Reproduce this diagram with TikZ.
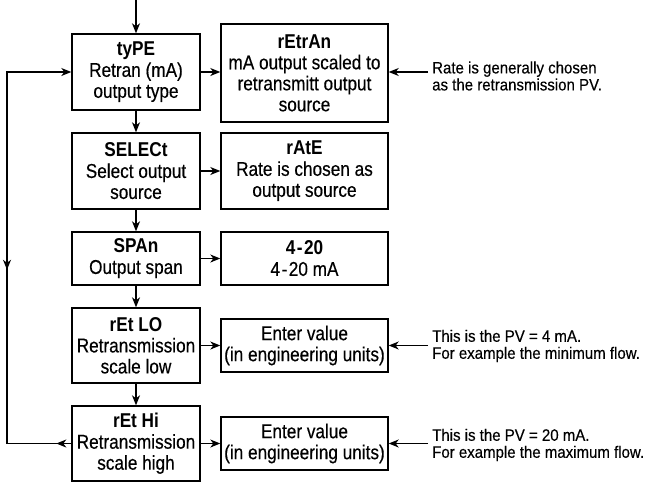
\documentclass[tikz,border=0pt]{standalone}
\usepackage{fontspec}
\setmainfont{Liberation Sans}[FakeStretch=0.86,UprightFeatures={FakeBold=0.4}]
\newfontfamily\notefont{Liberation Sans}[FakeStretch=0.91,FakeBold=0.3]
\usetikzlibrary{arrows.meta,decorations.markings}
\tikzset{
  tip/.tip={Stealth[length=10pt,width=8pt,inset=3pt]},
  box/.style={draw,line width=1.4pt,inner sep=0pt,align=center,
    font=\fontsize{20}{21}\selectfont},
  lbox/.style={box,minimum width=128pt},
  rbox/.style={box,minimum width=167pt},
  conn/.style={line width=1.2pt,-tip},
  note/.style={anchor=west,align=left,inner sep=0pt,
    font=\notefont\fontsize{16.5}{17}\selectfont}
}
\begin{document}
\begin{tikzpicture}[x=1pt,y=-1pt]
\useasboundingbox (0,0) rectangle (647,482);
% left column
\node[lbox,minimum height=76pt] (type) at (136,72) {\textbf{tyPE}\\Retran (mA)\\output type};
\node[lbox,minimum height=76pt] (sel) at (136,171) {\textbf{SELECt}\\Select output\\source};
\node[lbox,minimum height=53pt] (span) at (136,258.5) {\textbf{SPAn}\\Output span};
\node[lbox,minimum height=75pt] (lo) at (136,345.5) {\textbf{rEt LO}\\Retransmission\\scale low};
\node[lbox,minimum height=75pt] (hi) at (136,443.5) {\textbf{rEt Hi}\\Retransmission\\scale high};
% right column
\node[rbox,minimum height=98pt] (retran) at (304.5,73) {\textbf{rEtrAn}\\mA output scaled to\\retransmitt output\\source};
\node[rbox,minimum height=76pt] (rate) at (304.5,171) {\textbf{rAtE}\\Rate is chosen as\\output source};
\node[rbox,minimum height=53pt] (mA) at (304.5,258.5) {\textbf{4\kern1.5pt-\kern1.5pt20}\\4\kern1.5pt-\kern1.5pt20 mA};
\node[rbox,minimum height=53pt] (ev1) at (304.5,345.5) {Enter value\\(in engineering units)};
\node[rbox,minimum height=53pt] (ev2) at (304.5,443.5) {Enter value\\(in engineering units)};
% notes
\node[note] (n1) at (432,76) {Rate is generally chosen\\as the retransmission PV.};
\node[note] (n2) at (432,346) {This is the PV = 4 mA.\\For example the minimum flow.};
\node[note] (n3) at (432,445) {This is the PV = 20 mA.\\For example the maximum flow.};
% connectors
\coordinate (top) at (136,0);
\draw[conn] (top) -- (type.north);
\draw[conn] (type.south) -- (sel.north);
\draw[conn] (sel.south) -- (span.north);
\draw[conn] (span.south) -- (lo.north);
\draw[conn] (lo.south) -- (hi.north);
\draw[conn] (type.east) -- (type.east -| retran.west);
\draw[conn] (sel.east) -- (rate.west);
\draw[conn] (span.east) -- (mA.west);
\draw[conn] (lo.east) -- (ev1.west);
\draw[conn] (hi.east) -- (ev2.west);
\draw[conn] (n1.west |- type.east) ++(-4,0) coordinate (a1) -- (a1 -| retran.east);
\draw[conn] (n2.west |- ev1.east) ++(-4,0) coordinate (a2) -- (ev1.east);
\draw[conn] (n3.west |- ev2.east) ++(-4,0) coordinate (a3) -- (ev2.east);
% feedback loop
\coordinate (lb) at (7,443.5);
\coordinate (lt) at (7,72);
\draw[line width=1.2pt,-tip,
  postaction={decorate,decoration={markings,
    mark=at position 15pt with {\arrow{tip}},
    mark=at position 238pt with {\arrowreversed{tip}}}}]
  (hi.west) -- (lb) -- (lt) -- (type.west);
\end{tikzpicture}
\end{document}
